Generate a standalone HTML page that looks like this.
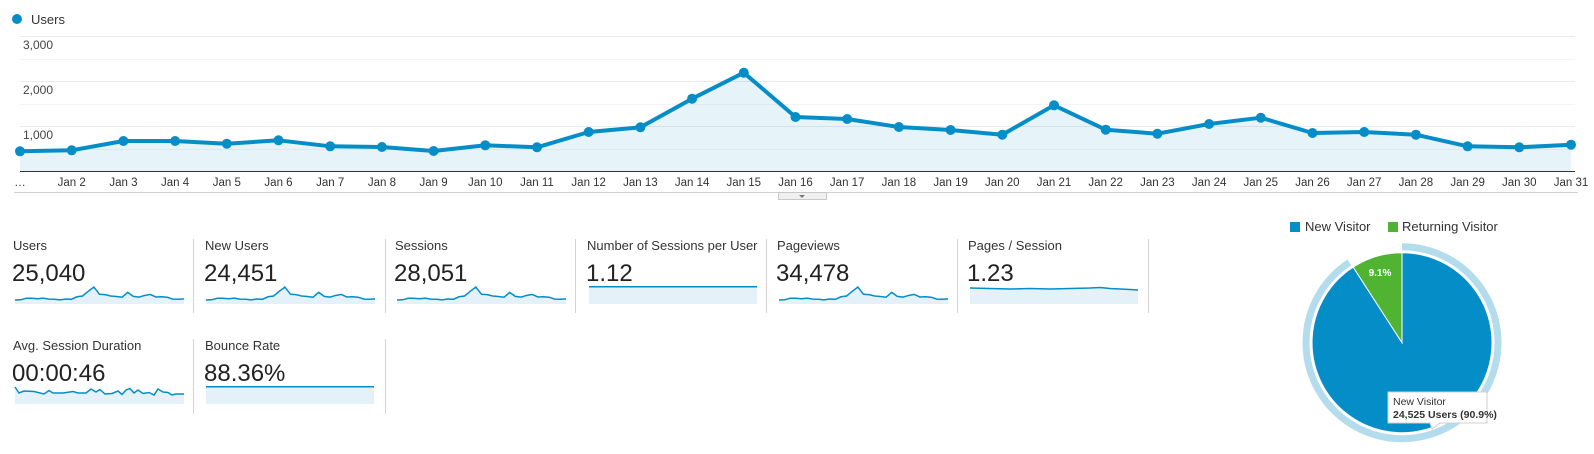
<!DOCTYPE html>
<html><head><meta charset="utf-8"><style>
html,body{margin:0;padding:0;background:#fff;width:1594px;height:454px;overflow:hidden}
svg{display:block;font-family:"Liberation Sans",Arial,sans-serif}
</style></head><body>
<svg width="1594" height="454" viewBox="0 0 1594 454" xmlns="http://www.w3.org/2000/svg">
<defs>
<g id="sp">
<path d="M20,151.3 L71.7,150.3 L123.4,141 L175.1,141 L226.8,143.7 L278.5,140.3 L330.2,146.3 L381.9,147 L433.6,151 L485.3,145.3 L537,147.3 L588.7,132 L640.4,127.3 L692.1,98.7 L743.8,72.7 L795.5,117 L847.2,119 L898.9,127 L950.6,130 L1002.3,134.7 L1054,105.3 L1105.7,129.7 L1157.4,133.7 L1209.1,124 L1260.8,117.7 L1312.5,133 L1364.2,132 L1415.9,134.7 L1467.6,146.3 L1519.3,147.3 L1571,144.7 L1571,175.8 L20,175.8 Z" fill="#e4f1f8"/>
<polyline points="20,151.3 71.7,150.3 123.4,141 175.1,141 226.8,143.7 278.5,140.3 330.2,146.3 381.9,147 433.6,151 485.3,145.3 537,147.3 588.7,132 640.4,127.3 692.1,98.7 743.8,72.7 795.5,117 847.2,119 898.9,127 950.6,130 1002.3,134.7 1054,105.3 1105.7,129.7 1157.4,133.7 1209.1,124 1260.8,117.7 1312.5,133 1364.2,132 1415.9,134.7 1467.6,146.3 1519.3,147.3 1571,144.7" fill="none" stroke="#058dc7" stroke-width="1.5" vector-effect="non-scaling-stroke"/>
</g>
</defs>

<!-- legend -->
<circle cx="17" cy="19" r="5" fill="#058dc7"/>
<text x="31" y="24" font-size="13" fill="#333">Users</text>

<!-- grid -->
<g stroke="#ebebeb" stroke-width="1">
<line x1="20" y1="36.5" x2="1575" y2="36.5"/>
<line x1="20" y1="59.5" x2="1575" y2="59.5" stroke="#f4f4f4"/>
<line x1="20" y1="81.5" x2="1575" y2="81.5"/>
<line x1="20" y1="104.5" x2="1575" y2="104.5" stroke="#f4f4f4"/>
<line x1="20" y1="126.5" x2="1575" y2="126.5"/>
<line x1="20" y1="149.5" x2="1575" y2="149.5" stroke="#f4f4f4"/>
</g>
<g font-size="12" fill="#444">
<text x="23" y="49">3,000</text>
<text x="23" y="94">2,000</text>
<text x="23" y="139">1,000</text>
</g>

<!-- area & line -->
<path d="M20,151.3 L71.7,150.3 L123.4,141 L175.1,141 L226.8,143.7 L278.5,140.3 L330.2,146.3 L381.9,147 L433.6,151 L485.3,145.3 L537,147.3 L588.7,132 L640.4,127.3 L692.1,98.7 L743.8,72.7 L795.5,117 L847.2,119 L898.9,127 L950.6,130 L1002.3,134.7 L1054,105.3 L1105.7,129.7 L1157.4,133.7 L1209.1,124 L1260.8,117.7 L1312.5,133 L1364.2,132 L1415.9,134.7 L1467.6,146.3 L1519.3,147.3 L1571,144.7 L1571,171 L20,171 Z" fill="#058dc7" fill-opacity="0.1"/>
<polyline points="20,151.3 71.7,150.3 123.4,141 175.1,141 226.8,143.7 278.5,140.3 330.2,146.3 381.9,147 433.6,151 485.3,145.3 537,147.3 588.7,132 640.4,127.3 692.1,98.7 743.8,72.7 795.5,117 847.2,119 898.9,127 950.6,130 1002.3,134.7 1054,105.3 1105.7,129.7 1157.4,133.7 1209.1,124 1260.8,117.7 1312.5,133 1364.2,132 1415.9,134.7 1467.6,146.3 1519.3,147.3 1571,144.7" fill="none" stroke="#058dc7" stroke-width="4" stroke-linejoin="round"/>
<g fill="#058dc7">
<circle cx="20" cy="151.3" r="5"/><circle cx="71.7" cy="150.3" r="5"/><circle cx="123.4" cy="141" r="5"/><circle cx="175.1" cy="141" r="5"/><circle cx="226.8" cy="143.7" r="5"/><circle cx="278.5" cy="140.3" r="5"/><circle cx="330.2" cy="146.3" r="5"/><circle cx="381.9" cy="147" r="5"/><circle cx="433.6" cy="151" r="5"/><circle cx="485.3" cy="145.3" r="5"/><circle cx="537" cy="147.3" r="5"/><circle cx="588.7" cy="132" r="5"/><circle cx="640.4" cy="127.3" r="5"/><circle cx="692.1" cy="98.7" r="5"/><circle cx="743.8" cy="72.7" r="5"/><circle cx="795.5" cy="117" r="5"/><circle cx="847.2" cy="119" r="5"/><circle cx="898.9" cy="127" r="5"/><circle cx="950.6" cy="130" r="5"/><circle cx="1002.3" cy="134.7" r="5"/><circle cx="1054" cy="105.3" r="5"/><circle cx="1105.7" cy="129.7" r="5"/><circle cx="1157.4" cy="133.7" r="5"/><circle cx="1209.1" cy="124" r="5"/><circle cx="1260.8" cy="117.7" r="5"/><circle cx="1312.5" cy="133" r="5"/><circle cx="1364.2" cy="132" r="5"/><circle cx="1415.9" cy="134.7" r="5"/><circle cx="1467.6" cy="146.3" r="5"/><circle cx="1519.3" cy="147.3" r="5"/><circle cx="1571" cy="144.7" r="5"/>
</g>
<line x1="20" y1="171.5" x2="1575" y2="171.5" stroke="#333" stroke-width="1"/>

<!-- x labels -->
<g font-size="11.5" fill="#333" text-anchor="middle">
<text x="20" y="186">…</text>
<text x="71.7" y="186">Jan 2</text><text x="123.4" y="186">Jan 3</text><text x="175.1" y="186">Jan 4</text><text x="226.8" y="186">Jan 5</text><text x="278.5" y="186">Jan 6</text><text x="330.2" y="186">Jan 7</text><text x="381.9" y="186">Jan 8</text><text x="433.6" y="186">Jan 9</text><text x="485.3" y="186">Jan 10</text><text x="537" y="186">Jan 11</text><text x="588.7" y="186">Jan 12</text><text x="640.4" y="186">Jan 13</text><text x="692.1" y="186">Jan 14</text><text x="743.8" y="186">Jan 15</text><text x="795.5" y="186">Jan 16</text><text x="847.2" y="186">Jan 17</text><text x="898.9" y="186">Jan 18</text><text x="950.6" y="186">Jan 19</text><text x="1002.3" y="186">Jan 20</text><text x="1054" y="186">Jan 21</text><text x="1105.7" y="186">Jan 22</text><text x="1157.4" y="186">Jan 23</text><text x="1209.1" y="186">Jan 24</text><text x="1260.8" y="186">Jan 25</text><text x="1312.5" y="186">Jan 26</text><text x="1364.2" y="186">Jan 27</text><text x="1415.9" y="186">Jan 28</text><text x="1467.6" y="186">Jan 29</text><text x="1519.3" y="186">Jan 30</text><text x="1571" y="186">Jan 31</text>
</g>
<line x1="14" y1="192.5" x2="1578" y2="192.5" stroke="#d0d0d0"/>
<rect x="778.5" y="192.5" width="48" height="7" fill="#f0f0f0" stroke="#c8c8c8"/>
<path d="M799,195 L805,195 L802,198 Z" fill="#777"/>

<!-- tiles -->
<g stroke="#d4d4d4">
<line x1="193.5" y1="239" x2="193.5" y2="313"/><line x1="385.5" y1="239" x2="385.5" y2="313"/><line x1="575.5" y1="239" x2="575.5" y2="313"/><line x1="766.5" y1="239" x2="766.5" y2="313"/><line x1="957.5" y1="239" x2="957.5" y2="313"/><line x1="1148.5" y1="239" x2="1148.5" y2="313"/>
<line x1="193.5" y1="339" x2="193.5" y2="414"/><line x1="385.5" y1="339" x2="385.5" y2="414"/>
</g>
<g font-size="13" fill="#333">
<text x="13" y="250">Users</text><text x="205" y="250">New Users</text><text x="395" y="250">Sessions</text><text x="587" y="250">Number of Sessions per User</text><text x="777" y="250">Pageviews</text><text x="968" y="250">Pages / Session</text>
<text x="13" y="350">Avg. Session Duration</text><text x="205" y="350">Bounce Rate</text>
</g>
<g font-size="24" fill="#222">
<text x="12" y="281">25,040</text><text x="204" y="281">24,451</text><text x="394" y="281">28,051</text><text x="586" y="281">1.12</text><text x="776" y="281">34,478</text><text x="967" y="281">1.23</text>
<text x="12" y="381">00:00:46</text><text x="204" y="381">88.36%</text>
</g>

<use href="#sp" transform="translate(12.8,275) scale(0.109,0.165)"/>
<use href="#sp" transform="translate(203.8,275) scale(0.109,0.165)"/>
<use href="#sp" transform="translate(394.8,275) scale(0.109,0.165)"/>
<use href="#sp" transform="translate(776.8,275) scale(0.109,0.165)"/>

<rect x="589" y="287" width="168" height="17" fill="#e4f1f8"/>
<line x1="589" y1="286.8" x2="757" y2="286.8" stroke="#058dc7" stroke-width="1.5"/>
<path d="M970,288 L990,288.5 L1010,289 L1030,288.5 L1050,289 L1070,288.5 L1090,288 L1100,287.5 L1110,288.5 L1120,289 L1130,289.5 L1138,290 L1138,304 L970,304 Z" fill="#e4f1f8"/>
<polyline points="970,288 990,288.5 1010,289 1030,288.5 1050,289 1070,288.5 1090,288 1100,287.5 1110,288.5 1120,289 1130,289.5 1138,290" fill="none" stroke="#058dc7" stroke-width="1.5"/>

<path d="M15,387 L19,393 L24,391 L34,391.5 L44,394 L49,390.5 L53,393 L63,393 L73,391.5 L78,393 L86,393 L91,389 L96,392 L100,389.5 L105,394 L112,393.5 L118,391 L122,394.5 L126,390 L130,388.5 L134,393 L138,390 L143,393.5 L149,392.5 L154,395 L158,389 L163,392 L168,392.5 L172,395 L176,394 L184,394 L184,404 L15,404 Z" fill="#e4f1f8"/>
<polyline points="15,387 19,393 24,391 34,391.5 44,394 49,390.5 53,393 63,393 73,391.5 78,393 86,393 91,389 96,392 100,389.5 105,394 112,393.5 118,391 122,394.5 126,390 130,388.5 134,393 138,390 143,393.5 149,392.5 154,395 158,389 163,392 168,392.5 172,395 176,394 184,394" fill="none" stroke="#058dc7" stroke-width="1.5"/>

<rect x="206" y="387" width="168" height="17" fill="#e4f1f8"/>
<line x1="206" y1="386.7" x2="374" y2="386.7" stroke="#058dc7" stroke-width="1.5"/>

<!-- pie -->
<rect x="1290" y="222" width="10" height="10" fill="#058dc7"/>
<text x="1305" y="231" font-size="13" fill="#333">New Visitor</text>
<rect x="1388" y="222" width="10" height="10" fill="#50b432"/>
<text x="1402" y="231" font-size="13" fill="#333">Returning Visitor</text>

<path d="M1402,246.7 A96 96 0 1 1 1349.4,262.4" fill="none" stroke="#b3dcec" stroke-width="7"/>
<path d="M1402,342.7 L1402,252.7 A90 90 0 1 1 1353.2,267.1 Z" fill="#058dc7" stroke="#fff" stroke-width="1"/>
<path d="M1402,342.7 L1353.2,267.1 A90 90 0 0 1 1402,252.7 Z" fill="#50b432" stroke="#fff" stroke-width="1"/>
<text x="1380" y="276" font-size="10" font-weight="bold" fill="#fff" text-anchor="middle">9.1%</text>

<path d="M1388,392 L1487,392 L1487,423 L1440,423 L1432,429 L1430,423 L1388,423 Z" fill="#fff" stroke="#d0d0d0"/>
<text x="1393" y="405" font-size="10.5" fill="#333">New Visitor</text>
<text x="1393" y="418" font-size="10.5" font-weight="bold" fill="#333">24,525 Users (90.9%)</text>
</svg>
</body></html>
